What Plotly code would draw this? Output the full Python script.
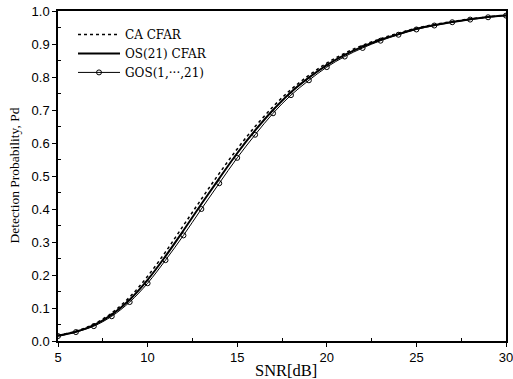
import plotly.graph_objects as go

snr_db = list(range(5, 31))
ca_cfar = [0.017, 0.030, 0.051, 0.085, 0.133, 0.196, 0.270, 0.350, 0.430, 0.508,
           0.582, 0.650, 0.710, 0.762, 0.805, 0.842, 0.872, 0.896, 0.916, 0.933,
           0.948, 0.959, 0.968, 0.976, 0.982, 0.987]
os_cfar = [0.016, 0.028, 0.048, 0.080, 0.125, 0.185, 0.257, 0.335, 0.415, 0.493,
           0.569, 0.638, 0.700, 0.754, 0.798, 0.836, 0.867, 0.892, 0.913, 0.930,
           0.946, 0.957, 0.967, 0.975, 0.982, 0.986]
gos_cfar = [0.015, 0.027, 0.045, 0.075, 0.118, 0.175, 0.245, 0.320, 0.400, 0.478,
            0.555, 0.625, 0.690, 0.745, 0.790, 0.830, 0.862, 0.888, 0.910, 0.928,
            0.944, 0.956, 0.966, 0.974, 0.981, 0.986]
names = ["CA CFAR", "OS(21) CFAR", "GOS(1,\u00b7\u00b7\u00b7,21)"]
x_ticks = [5, 10, 15, 20, 25, 30]
y_ticks = [round(i * 0.1, 1) for i in range(11)]
x_title = "SNR[dB]"
y_title = "Detection Probability, Pd"

fig = go.Figure()
fig.add_trace(go.Scatter(x=snr_db, y=ca_cfar, mode="lines", name=names[0],
                         line=dict(color="black", width=1.5, dash="dot", shape="spline")))
fig.add_trace(go.Scatter(x=snr_db, y=os_cfar, mode="lines", name=names[1],
                         line=dict(color="black", width=2, shape="spline")))
fig.add_trace(go.Scatter(x=snr_db, y=gos_cfar, mode="lines+markers", name=names[2],
                         line=dict(color="black", width=1, shape="spline"),
                         marker=dict(symbol="circle-open", size=5, color="black",
                                     line=dict(width=1, color="black"))))

tick_font = dict(family="Liberation Sans", size=13, color="black")
fig.update_layout(
    width=513, height=379,
    margin=dict(l=58, r=7, t=11, b=38, autoexpand=False),
    paper_bgcolor="white", plot_bgcolor="white",
    legend=dict(x=0.0335, y=0.973, xanchor="left", yanchor="top",
                bgcolor="rgba(0,0,0,0)", borderwidth=0,
                font=dict(family="DejaVu Serif", size=12, color="black"),
                tracegroupgap=0, itemwidth=42),
    xaxis=dict(range=[5, 30], tickvals=x_ticks, ticktext=[str(v) for v in x_ticks],
               showgrid=False, zeroline=False, showline=True, linecolor="black",
               linewidth=1.5, mirror=True, ticks="outside", ticklen=4,
               tickcolor="black", tickfont=tick_font, automargin=False,
               ticklabeloverflow="allow",
               minor=dict(tickvals=[7.5, 12.5, 17.5, 22.5, 27.5], ticks="inside",
                          ticklen=3, tickcolor="black", showgrid=False)),
    yaxis=dict(range=[0, 1.0], tickvals=y_ticks, ticktext=[f"{v:.1f}" for v in y_ticks],
               showgrid=False, zeroline=False, showline=True, linecolor="black",
               linewidth=1.5, mirror=True, ticks="outside", ticklen=4,
               tickcolor="black", tickfont=tick_font, automargin=False,
               ticklabeloverflow="allow",
               minor=dict(tickvals=[0.05 + 0.1 * i for i in range(10)], ticks="inside",
                          ticklen=3, tickcolor="black", showgrid=False)),
    annotations=[
        dict(text=x_title, xref="paper", yref="paper", x=0.51, y=0, xanchor="center",
             yanchor="middle", yshift=-29, showarrow=False,
             font=dict(family="Liberation Serif", size=16.5, color="black")),
        dict(text=y_title, xref="paper", yref="paper", x=0, y=0.5, xanchor="center",
             yanchor="middle", xshift=-44.5, textangle=-90, showarrow=False,
             font=dict(family="Liberation Serif", size=13.5, color="black")),
    ],
    showlegend=True,
)

fig.write_html("out.html",
               config={"displayModeBar": False},
               post_script="document.body.style.margin='0';document.body.style.overflow='hidden';")
